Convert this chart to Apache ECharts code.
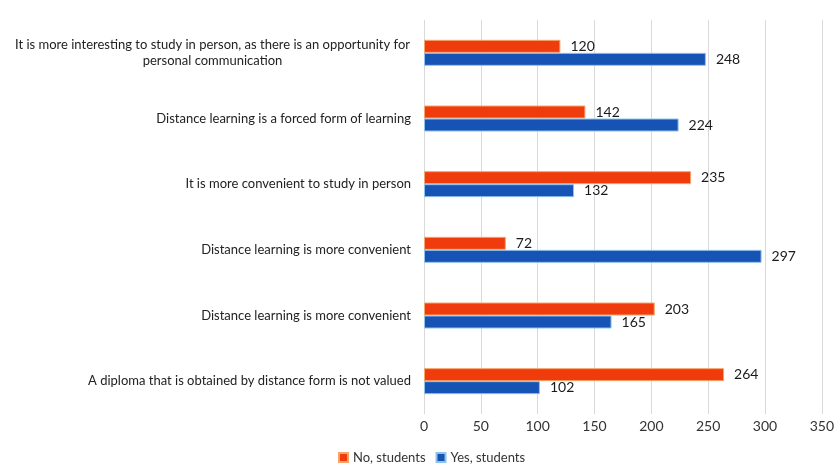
<!DOCTYPE html>
<html>
  <head>
      <meta charset="utf-8">
      <script src="https://cdn.jsdelivr.net/npm/echarts@6/dist/echarts.min.js"></script>
  </head>
  <body style="margin:0">
      <div id="main" style="width: 837px;height:468px;"></div>
      <script type="text/javascript">
          var categories = [
              'It is more interesting to study in person, as there is an opportunity for\npersonal communication',
              'Distance learning is a forced form of learning',
              'It is more convenient to study in person',
              'Distance learning is more convenient',
              'Distance learning is more convenient',
              'A diploma that is obtained by distance form is not valued'
          ];
          var noStudents = [120, 142, 235, 72, 203, 264];
          var yesStudents = [248, 224, 132, 297, 165, 102];
          var xTicks = [0, 50, 100, 150, 200, 250, 300, 350];

          var myChart = echarts.init(document.getElementById('main'));
          var font = 'Lato';

          var valueLabel = {
              show: true,
              position: 'right',
              distance: 10,
              fontFamily: font,
              fontSize: 14,
              color: '#1a1a1a'
          };

          var option = {
              textStyle: {fontFamily: font},
              legend: {
                  data: ['No, students', 'Yes, students'],
                  bottom: -1,
                  left: 333,
                  itemWidth: 9,
                  itemHeight: 9,
                  itemGap: 10,
                  icon: 'rect',
                  textStyle: {fontSize: 13, color: '#333', fontFamily: font}
              },
              grid: {left: 424, right: 15, top: 20, bottom: 54},
              xAxis: {
                  type: 'value',
                  min: 0,
                  max: 350,
                  interval: 50,
                  axisLine: {show: false},
                  axisTick: {show: false},
                  splitLine: {lineStyle: {color: '#d9d9d9'}},
                  axisLabel: {
                      margin: 5,
                      fontSize: 14,
                      color: '#333',
                      fontFamily: font,
                      formatter: function (v) { return xTicks.indexOf(v) >= 0 ? String(v) : ''; }
                  }
              },
              yAxis: {
                  type: 'category',
                  inverse: true,
                  data: categories,
                  axisLine: {show: false},
                  axisTick: {show: false},
                  axisLabel: {
                      margin: 13,
                      fontSize: 13,
                      color: '#222',
                      fontFamily: font,
                      lineHeight: 16,
                      formatter: function (v) {
                          if (v.indexOf('\n') >= 0) {
                              return v.split('\n').map(function (l) { return '{c|' + l + '}'; }).join('\n');
                          }
                          return v;
                      },
                      rich: {
                          c: {width: 397, align: 'center', fontSize: 13, color: '#222', fontFamily: font, lineHeight: 16}
                      }
                  }
              },
              series: [
                  {
                      name: 'No, students',
                      type: 'bar',
                      barWidth: 13,
                      barGap: '0%',
                      itemStyle: {color: '#f03c0c', borderColor: '#f7a46a', borderWidth: 1},
                      label: valueLabel,
                      data: noStudents
                  },
                  {
                      name: 'Yes, students',
                      type: 'bar',
                      barWidth: 13,
                      itemStyle: {color: '#1753b5', borderColor: '#8ec3ea', borderWidth: 1},
                      label: valueLabel,
                      data: yesStudents
                  }
              ]
          };
          myChart.setOption(option);
      </script>
  </body>
</html>
